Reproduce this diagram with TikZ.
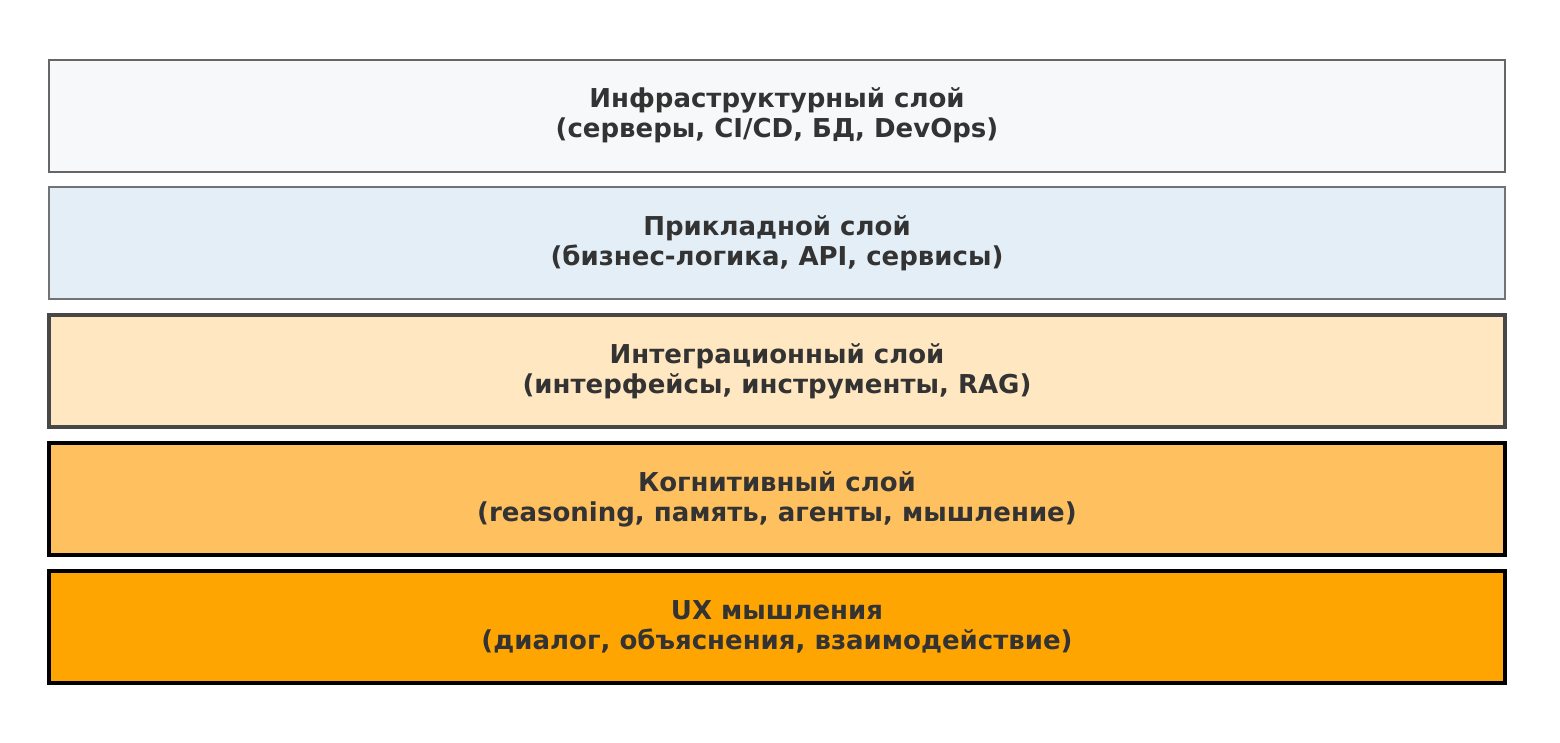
\documentclass[tikz,border=0pt]{standalone}
\usepackage{fontspec}
\setmainfont{DejaVu Sans}
\begin{document}
\begin{tikzpicture}[x=1pt,y=-1pt,
  layer/.style={rectangle,minimum width=1456pt,minimum height=112pt,inner sep=0pt,
    align=center,font=\fontsize{26}{30}\selectfont\bfseries,text=txt},
]
\definecolor{txt}{HTML}{333333}
\definecolor{f1}{HTML}{F7F8F9}
\definecolor{f2}{HTML}{E3EEF6}
\definecolor{f3}{HTML}{FFE7C1}
\definecolor{f4}{HTML}{FFC060}
\definecolor{f5}{HTML}{FFA502}
\useasboundingbox[fill=white] (0,0) rectangle (1560,742);
\node[layer,fill=f1,draw=black!60,line width=2pt] (l1) at (777,115.5) {Инфраструктурный слой\\(серверы, CI/CD, БД, DevOps)};
\node[layer,fill=f2,draw=black!55,line width=2.8pt] (l2) at (777,243) {Прикладной слой\\(бизнес-логика, API, сервисы)};
\node[layer,fill=f3,draw=black!72,line width=3.2pt] (l3) at (777,371) {Интеграционный слой\\(интерфейсы, инструменты, RAG)};
\node[layer,fill=f4,draw=black,line width=3.4pt] (l4) at (777,499) {Когнитивный слой\\(reasoning, память, агенты, мышление)};
\node[layer,fill=f5,draw=black,line width=3.6pt] (l5) at (777,627) {UX мышления\\(диалог, объяснения, взаимодействие)};
\end{tikzpicture}
\end{document}
